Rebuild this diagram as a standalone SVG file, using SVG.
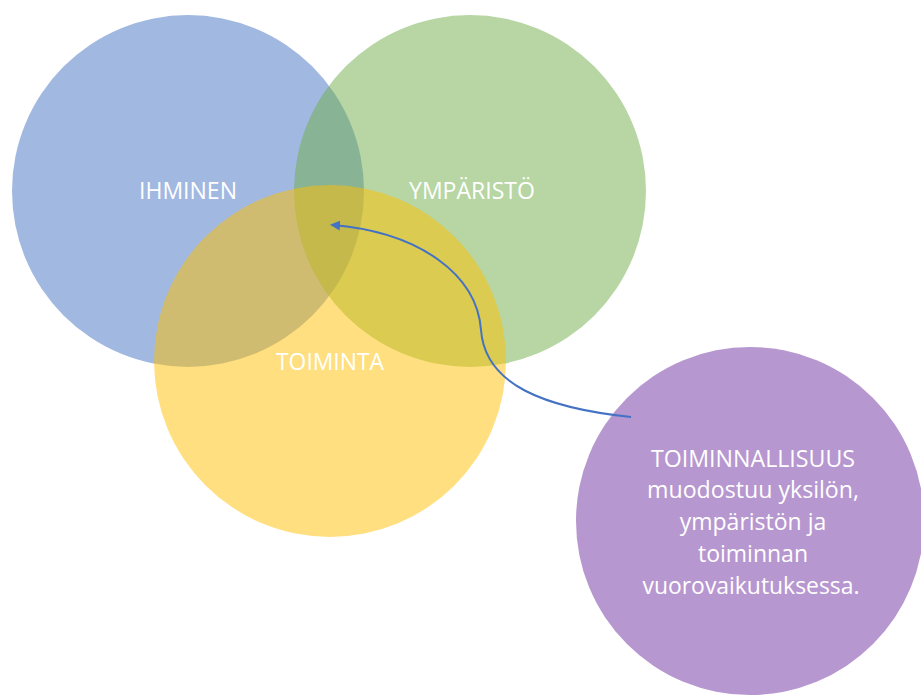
<svg xmlns="http://www.w3.org/2000/svg" width="921" height="695" viewBox="0 0 921 695">
<style>
.lbl{font-family:"Open Sans","Liberation Sans",sans-serif;font-size:23px;fill:#ffffff;text-anchor:middle}
.c{fill-opacity:0.5}
.conn{fill:none;stroke:#4472C4;stroke-width:2}
</style>
<defs>
<marker id="ah" viewBox="0 0 10 10" refX="8" refY="5" markerWidth="5" markerHeight="5" orient="auto-start-reverse" markerUnits="strokeWidth">
<path d="M0,0 L10,5 L0,10 z" fill="#4472C4"/>
</marker>
</defs>
<rect width="921" height="695" fill="#ffffff"/>
<g id="ihminen">
<circle class="c" cx="188" cy="191" r="176" fill="#4472C4"/>
</g>
<g id="ymparisto">
<circle class="c" cx="470" cy="191" r="176" fill="#70AD47"/>
</g>
<g id="toiminta">
<circle class="c" cx="330" cy="361" r="176" fill="#FFC000"/>
</g>
<g id="labels">
<text class="lbl" x="188" y="199" textLength="98" lengthAdjust="spacingAndGlyphs">IHMINEN</text>
<text class="lbl" x="472" y="199" textLength="126" lengthAdjust="spacingAndGlyphs">YMPÄRISTÖ</text>
<text class="lbl" x="330" y="370" textLength="108" lengthAdjust="spacingAndGlyphs">TOIMINTA</text>
</g>
<g id="toiminnallisuus">
<circle class="c" cx="750" cy="521" r="174" fill="#7030A0"/>
<text class="lbl" x="753" y="467" textLength="204" lengthAdjust="spacingAndGlyphs">TOIMINNALLISUUS</text>
<text class="lbl" x="753" y="498" textLength="212" lengthAdjust="spacingAndGlyphs">muodostuu yksilön,</text>
<text class="lbl" x="753" y="530">ympäristön ja</text>
<text class="lbl" x="753" y="562">toiminnan</text>
<text class="lbl" x="751" y="594" textLength="217" lengthAdjust="spacingAndGlyphs">vuorovaikutuksessa.</text>
</g>
<g id="connectors">
<path class="conn" d="M 631 417 C 545 408 485 385 481 330 C 477 275 420 232 332 225" marker-end="url(#ah)"/>
</g>
</svg>
